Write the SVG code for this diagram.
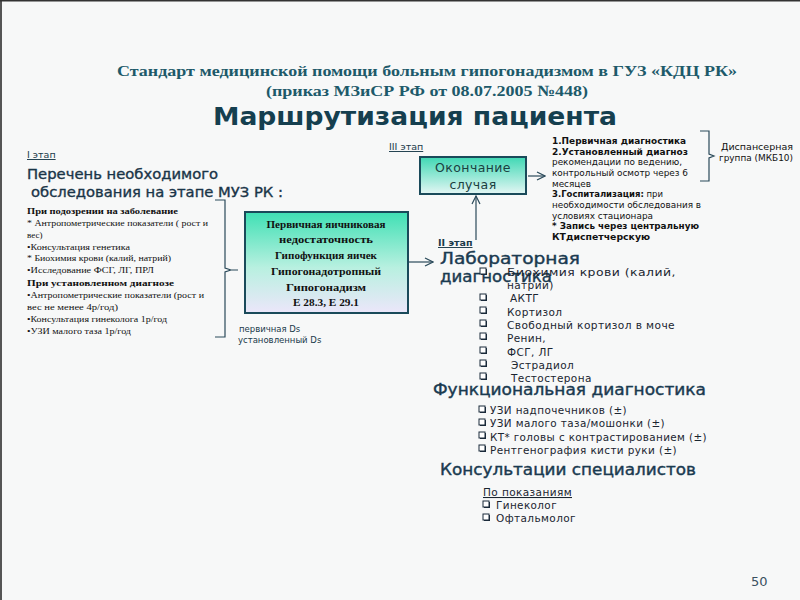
<svg xmlns="http://www.w3.org/2000/svg" width="800" height="600" viewBox="0 0 800 600">
<defs>
<linearGradient id="gBox" x1="0" y1="0" x2="0" y2="1">
<stop offset="0" stop-color="#3fe0b4"/>
<stop offset="0.55" stop-color="#b8f0e0"/>
<stop offset="1" stop-color="#ece6fa"/>
</linearGradient>
<linearGradient id="gEnd" x1="0" y1="0" x2="0" y2="1">
<stop offset="0" stop-color="#3fd8b4"/>
<stop offset="1" stop-color="#e4f6f4"/>
</linearGradient>
<marker id="arr" viewBox="0 0 10 10" refX="9" refY="5" markerWidth="10" markerHeight="10" markerUnits="userSpaceOnUse" orient="auto">
<path d="M1,1 L9,5 L1,9" fill="none" stroke="#2a4a5a" stroke-width="1.2"/>
</marker>
<g id="cb">
<rect x="1" y="1" width="6" height="6" fill="#1a2a3a"/>
<rect x="0" y="0" width="6" height="6" fill="#ffffff" stroke="#1a2a3a" stroke-width="1"/>
</g>
</defs>
<style>
.ttl{font-family:"Liberation Serif",serif;font-weight:bold;font-size:15.5px;fill:#1d5a6a}
.big{font-family:"DejaVu Sans",sans-serif;font-weight:bold;font-size:25px;fill:#153f4f}
.stage{font-family:"DejaVu Sans",sans-serif;font-size:9.5px;fill:#1a3a4a;text-decoration:underline}
.h1{font-family:"DejaVu Sans",sans-serif;font-size:14px;fill:#1a3548;stroke:#1a3548;stroke-width:0.35}
.h2{font-family:"DejaVu Sans",sans-serif;font-size:15.5px;fill:#1a3a50;stroke:#1a3a50;stroke-width:0.4}
.ls{font-family:"Liberation Serif",serif;font-size:9px;fill:#111}
.lsb{font-family:"Liberation Serif",serif;font-size:9px;font-weight:bold;fill:#111}
.bx{font-family:"Liberation Serif",serif;font-size:9.5px;font-weight:bold;fill:#111;text-anchor:middle}
.sm{font-family:"DejaVu Sans",sans-serif;font-size:8.5px;fill:#1a3a4a}
.it{font-family:"DejaVu Sans",sans-serif;font-size:10.5px;fill:#1a2530;letter-spacing:0.4px}
.rt{font-family:"DejaVu Sans",sans-serif;font-size:8px;fill:#111}
.rtb{font-family:"DejaVu Sans",sans-serif;font-size:8px;font-weight:bold;fill:#111}
.con{fill:none;stroke:#2a4a5a;stroke-width:1.2}
</style>
<rect width="800" height="600" fill="#f7f8f8"/>
<rect x="0" y="0" width="2" height="600" fill="#555"/>
<rect x="0" y="0" width="800" height="1.5" fill="#333"/>

<g id="title">
<text class="ttl" x="427" y="76" text-anchor="middle" textLength="620" lengthAdjust="spacingAndGlyphs">Стандарт медицинской помощи больным гипогонадизмом  в  ГУЗ «КДЦ РК»</text>
<text class="ttl" x="427" y="96" text-anchor="middle" textLength="322" lengthAdjust="spacingAndGlyphs">(приказ МЗиСР  РФ  от 08.07.2005 №448)</text>
<text class="big" x="415" y="125" text-anchor="middle" textLength="404" lengthAdjust="spacingAndGlyphs">Маршрутизация пациента</text>
</g>

<g id="connectors">
<path class="con" d="M215,200 L225,200 L225,268 L231,270 L238,270 M231,270 L225,272 L225,337 L215,337"/>
<line class="con" x1="409" y1="262" x2="433" y2="262" marker-end="url(#arr)"/>
<line class="con" x1="476" y1="240" x2="476" y2="196" marker-end="url(#arr)"/>
<line class="con" x1="528" y1="176" x2="545" y2="176" marker-end="url(#arr)"/>
<path class="con" d="M700,131 L709,131 L709,154 L714,156 L709,158 L709,181 L700,181"/>
</g>

<g id="stage1">
<text class="stage" x="27" y="158">I этап</text>
<text class="h1" x="27" y="179" textLength="191" lengthAdjust="spacingAndGlyphs">Перечень необходимого</text>
<text class="h1" x="31" y="197" textLength="252" lengthAdjust="spacingAndGlyphs">обследования на этапе МУЗ РК :</text>
<text class="lsb" x="27" y="214" textLength="151" lengthAdjust="spacingAndGlyphs">При  подозрении на заболевание</text>
<text class="ls" x="27" y="226" textLength="181" lengthAdjust="spacingAndGlyphs">* Антропометрические показатели ( рост и</text>
<text class="ls" x="27" y="238">вес)</text>
<text class="ls" x="27" y="250" textLength="103" lengthAdjust="spacingAndGlyphs">•Консультация генетика</text>
<text class="ls" x="27" y="261" textLength="144" lengthAdjust="spacingAndGlyphs">* Биохимия крови (калий, натрий)</text>
<text class="ls" x="27" y="273" textLength="127" lengthAdjust="spacingAndGlyphs">•Исследование  ФСГ, ЛГ, ПРЛ</text>
<text class="lsb" x="27" y="286" font-size="10" textLength="147" lengthAdjust="spacingAndGlyphs">При установленном диагнозе</text>
<text class="ls" x="27" y="298" textLength="177" lengthAdjust="spacingAndGlyphs">•Антропометрические показатели (рост и</text>
<text class="ls" x="27" y="310" textLength="91" lengthAdjust="spacingAndGlyphs">вес не менее  4р/год)</text>
<text class="ls" x="27" y="322" textLength="140" lengthAdjust="spacingAndGlyphs">•Консультация гинеколога 1р/год</text>
<text class="ls" x="27" y="334" textLength="104" lengthAdjust="spacingAndGlyphs">•УЗИ малого таза 1р/год</text>
</g>

<g id="diagnosis">
<rect x="245" y="212" width="163" height="101" fill="url(#gBox)" stroke="#1a4a5a" stroke-width="2"/>
<text class="bx" x="326" y="228" textLength="119" lengthAdjust="spacingAndGlyphs">Первичная яичниковая</text>
<text class="bx" x="326" y="243" textLength="94" lengthAdjust="spacingAndGlyphs">недостаточность</text>
<text class="bx" x="326" y="259" textLength="102" lengthAdjust="spacingAndGlyphs">Гипофункция яичек</text>
<text class="bx" x="326" y="275" textLength="110" lengthAdjust="spacingAndGlyphs">Гипогонадотропный</text>
<text class="bx" x="326" y="291" textLength="80" lengthAdjust="spacingAndGlyphs">Гипогонадизм</text>
<text class="bx" x="326" y="306" textLength="66" lengthAdjust="spacingAndGlyphs">E 28.3, E 29.1</text>
<text class="sm" x="239" y="332">первичная Ds</text>
<text class="sm" x="238" y="343">установленный Ds</text>
</g>

<g id="stage3">
<text class="stage" x="389" y="150">III этап</text>
<rect x="420" y="157" width="106" height="37" fill="url(#gEnd)" stroke="#1a4a5a" stroke-width="2"/>
<text x="473" y="172" text-anchor="middle" font-family="DejaVu Sans, sans-serif" font-size="12.5" letter-spacing="0.4" fill="#1a4040">Окончание</text>
<text x="473" y="189" text-anchor="middle" font-family="DejaVu Sans, sans-serif" font-size="12.5" letter-spacing="0.4" fill="#1a4040">случая</text>
</g>

<g id="notes">
<text class="rtb" x="552" y="144" textLength="134" lengthAdjust="spacingAndGlyphs">1.Первичная диагностика</text>
<text class="rtb" x="552" y="155" textLength="136" lengthAdjust="spacingAndGlyphs">2.Установленный диагноз</text>
<text class="rt" x="552" y="165" textLength="130" lengthAdjust="spacingAndGlyphs">рекомендации по ведению,</text>
<text class="rt" x="552" y="176" textLength="136" lengthAdjust="spacingAndGlyphs">контрольный осмотр через 6</text>
<text class="rt" x="552" y="187" textLength="39" lengthAdjust="spacingAndGlyphs">месяцев</text>
<text class="rt" x="552" y="197" textLength="111" lengthAdjust="spacingAndGlyphs"><tspan font-weight="bold">3.Госпитализация:</tspan> при</text>
<text class="rt" x="552" y="208" textLength="149" lengthAdjust="spacingAndGlyphs">необходимости обследования в</text>
<text class="rt" x="552" y="219" textLength="101" lengthAdjust="spacingAndGlyphs">условиях стационара</text>
<text class="rtb" x="552" y="229" textLength="147" lengthAdjust="spacingAndGlyphs">* Запись через центральную</text>
<text class="rtb" x="552" y="240" textLength="98" lengthAdjust="spacingAndGlyphs">КТдиспетчерскую</text>
<text class="rt" x="721" y="150" font-size="8.5" textLength="72" lengthAdjust="spacingAndGlyphs">Диспансерная</text>
<text class="rt" x="719" y="161" font-size="8.5" textLength="74" lengthAdjust="spacingAndGlyphs">группа (МКБ10)</text>
</g>

<g id="lab">
<text class="stage" x="438" y="246" font-weight="bold" font-size="9">II этап</text>
<text class="h2" x="440" y="264" textLength="140" lengthAdjust="spacingAndGlyphs">Лабораторная</text>
<text class="h2" x="440" y="282" textLength="112" lengthAdjust="spacingAndGlyphs">диагностика</text>
<use href="#cb" x="480" y="268"/>
<use href="#cb" x="480" y="294"/>
<use href="#cb" x="480" y="307"/>
<use href="#cb" x="480" y="320"/>
<use href="#cb" x="480" y="333"/>
<use href="#cb" x="480" y="347"/>
<use href="#cb" x="480" y="360"/>
<use href="#cb" x="480" y="373"/>
<text class="it" x="507" y="276" textLength="169" lengthAdjust="spacingAndGlyphs">Биохимия крови (калий,</text>
<text class="it" x="507" y="289">натрии)</text>
<text class="it" x="510" y="302">АКТГ</text>
<text class="it" x="507" y="316">Кортизол</text>
<text class="it" x="507" y="329" textLength="168" lengthAdjust="spacingAndGlyphs">Свободный кортизол  в моче</text>
<text class="it" x="507" y="342">Ренин,</text>
<text class="it" x="507" y="356">ФСГ, ЛГ</text>
<text class="it" x="511" y="369">Эстрадиол</text>
<text class="it" x="511" y="382">Тестостерона</text>
</g>

<g id="func">
<text class="h2" x="433" y="395" textLength="273" lengthAdjust="spacingAndGlyphs">Функциональная диагностика</text>
<use href="#cb" x="479" y="406"/>
<use href="#cb" x="479" y="419"/>
<use href="#cb" x="479" y="432"/>
<use href="#cb" x="479" y="445"/>
<text class="it" x="490" y="414" textLength="137" lengthAdjust="spacingAndGlyphs">УЗИ надпочечников (±)</text>
<text class="it" x="490" y="427" textLength="175" lengthAdjust="spacingAndGlyphs">УЗИ малого таза/мошонки (±)</text>
<text class="it" x="490" y="441" textLength="217" lengthAdjust="spacingAndGlyphs">КТ* головы с контрастированием (±)</text>
<text class="it" x="490" y="454" textLength="187" lengthAdjust="spacingAndGlyphs">Рентгенография кисти руки (±)</text>
</g>

<g id="consult">
<text class="h2" x="440" y="475" textLength="256" lengthAdjust="spacingAndGlyphs">Консультации специалистов</text>
<text class="it" x="483" y="496" text-decoration="underline" textLength="89" lengthAdjust="spacingAndGlyphs">По показаниям</text>
<use href="#cb" x="483" y="501"/>
<use href="#cb" x="483" y="514"/>
<text class="it" x="496" y="509" textLength="61" lengthAdjust="spacingAndGlyphs">Гинеколог</text>
<text class="it" x="496" y="522" textLength="80" lengthAdjust="spacingAndGlyphs">Офтальмолог</text>
</g>

<text x="751" y="586" font-family="DejaVu Sans, sans-serif" font-size="13" fill="#3a5060">50</text>
</svg>
